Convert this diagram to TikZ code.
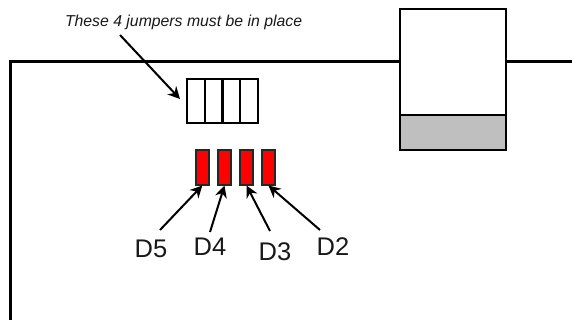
\documentclass[tikz,border=0pt]{standalone}
\usepackage{fontspec}
\setmainfont{Liberation Sans}
\usetikzlibrary{arrows.meta,calc}
\tikzset{
  every node/.style={inner sep=0pt,outer sep=0pt},
  board/.style={line width=3pt,line join=miter},
  redpin/.style={draw=black!85,line width=2pt,fill=red,minimum width=13pt,minimum height=35pt},
  cell/.style={draw=black,line width=2pt,minimum width=17.75pt,minimum height=44pt},
  pointer/.style={line width=2pt,-{Stealth[length=12pt,width=12pt]},shorten >=0pt},
  dlabel/.style={font=\fontsize{25.5}{25.5}\selectfont,text=black!90,anchor=base},
  note/.style={font=\itshape\fontsize{15.8}{16}\selectfont,text=black!90,anchor=base west}
}
\begin{document}
\begin{tikzpicture}[x=1pt,y=-1pt]
\useasboundingbox (0,0) rectangle (572,320);
\fill[white] (0,0) rectangle (572,320);
% board
\draw[board] (10,320) -- (10,62) -- (572,62);
% connector housing
\node[draw=black,line width=2pt,fill=white,minimum width=106pt,minimum height=106pt,anchor=north west] (house) at (400,9) {};
\node[draw=black,line width=2pt,fill=black!25,minimum width=106pt,minimum height=35pt,anchor=north west] (plug) at (400,115) {};
% jumpers
\node[cell] (c1) at (195.9,101) {};
\node[cell] (c2) at (213.6,101) {};
\node[cell] (c3) at (231.4,101) {};
\node[cell] (c4) at (249.1,101) {};
% LEDs
\node[redpin] (r5) at (202.3,168) {};
\node[redpin] (r4) at (224.5,168) {};
\node[redpin] (r3) at (246.5,168) {};
\node[redpin] (r2) at (268.5,168) {};
% labels
\node[note] (note) at (65,27) {These 4 jumpers must be in place};
\node[dlabel] (d5) at (151,257) {D5};
\node[dlabel] (d4) at (210,255) {D4};
\node[dlabel] (d3) at (275,260) {D3};
\node[dlabel] (d2) at (333,255) {D2};
% free ends
\coordinate (n0) at (120,35);
\coordinate (n1) at (180,99);
\coordinate (s5) at (160,230);
\coordinate (s4) at (210,232);
\coordinate (s3) at (270,231);
\coordinate (s2) at (320,230);
\draw[pointer] (n0) -- (n1);
\draw[pointer] (s5) -- (r5.south);
\draw[pointer] (s4) -- (r4.south);
\draw[pointer] (s3) -- (r3.south);
\draw[pointer] (s2) -- (r2.south);
\end{tikzpicture}
\end{document}
